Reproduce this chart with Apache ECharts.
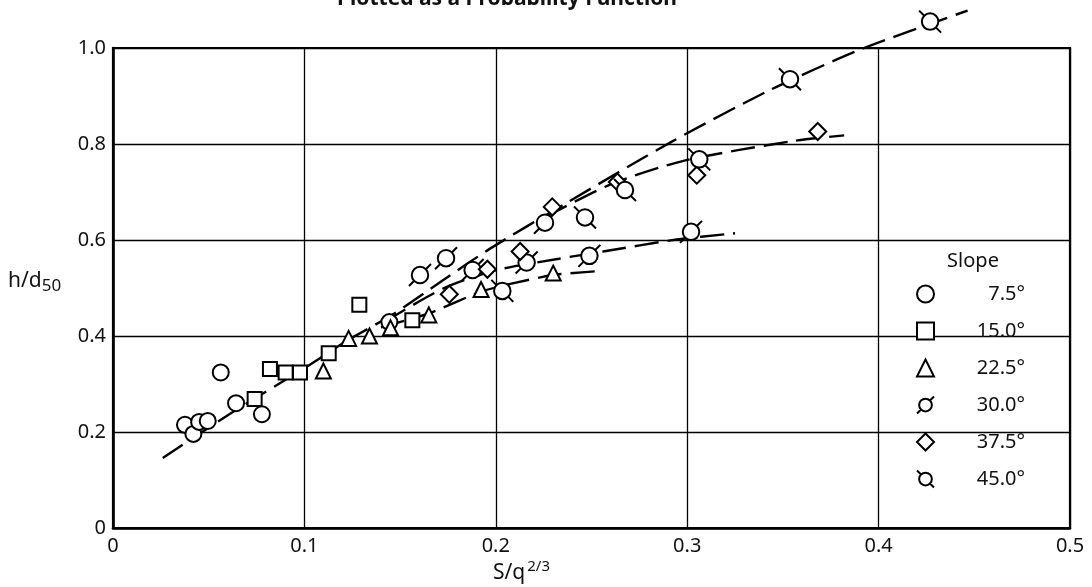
<!DOCTYPE html>
<html>
<head>
<meta charset="utf-8">
<script src="https://cdn.jsdelivr.net/npm/echarts@6/dist/echarts.min.js"></script>
<style>
html,body{margin:0;padding:0;background:#fff;}
#chart{width:1092px;height:587px;}
</style>
</head>
<body>
<div id="chart"></div>
<script>
// ---- data ----
const xTickLabels = ['0', '0.1', '0.2', '0.3', '0.4', '0.5'];
const yTickLabels = ['0', '0.2', '0.4', '0.6', '0.8', '1.0'];
const legendNames = ['7.5°', '15.0°', '22.5°', '30.0°', '37.5°', '45.0°'];

const slope75 = [[0.0376,0.215],[0.042,0.196],[0.045,0.221],[0.0495,0.223],[0.0563,0.324],[0.0643,0.26],[0.0778,0.237],[0.1444,0.429]];
const slope15 = [[0.074,0.269],[0.082,0.331],[0.0902,0.324],[0.0977,0.324],[0.1127,0.364],[0.1287,0.465],[0.1564,0.433]];
const slope225 = [[0.1099,0.327],[0.1231,0.395],[0.134,0.40],[0.145,0.417],[0.165,0.444],[0.1923,0.497],[0.230,0.531]];
const slope30 = [[0.1604,0.527],[0.174,0.562],[0.1879,0.5375],[0.2161,0.553],[0.2257,0.636],[0.2489,0.567],[0.302,0.617]];
const slope375 = [[0.1757,0.487],[0.1956,0.539],[0.2127,0.576],[0.2295,0.669],[0.2635,0.721],[0.305,0.735],[0.3682,0.826]];
const slope45 = [[0.2034,0.494],[0.2466,0.647],[0.2675,0.704],[0.3063,0.768],[0.3537,0.935],[0.4269,1.055]];

const curveBase = [[0.026,0.146],[0.062,0.24],[0.1,0.333],[0.122,0.39]];
const curveUpper = [[0.122,0.39],[0.147,0.447],[0.172,0.515],[0.197,0.582],[0.236,0.675],[0.292,0.805],[0.343,0.912],[0.39,0.996],[0.4465,1.078]];
const curveMiddle = [[0.226,0.648],[0.26,0.716],[0.298,0.765],[0.355,0.806],[0.382,0.818]];
const curveLow = [[0.142,0.43],[0.173,0.5],[0.2,0.537],[0.233,0.561],[0.256,0.576],[0.2945,0.601],[0.325,0.614]];
const curveLowest = [[0.14,0.418],[0.165,0.447],[0.192,0.492],[0.207,0.508],[0.23,0.527],[0.2527,0.535]];

// ---- styling ----
const FONT = 'Noto Sans';
const sym30 = 'path://M4,10A6,6,0,1,0,16,10A6,6,0,1,0,4,10ZM14.2,5.8L18,2M5.8,14.2L2,18';
const sym45 = 'path://M4,10A6,6,0,1,0,16,10A6,6,0,1,0,4,10ZM5.8,5.8L2,2M14.2,14.2L18,18';
const hollow = {color: '#ffffff', borderColor: '#000000', borderWidth: 2, opacity: 1};

function scatter(name, data, symbol, size) {
  return {
    name: name, type: 'scatter', data: data, symbol: symbol, symbolSize: size,
    itemStyle: hollow, clip: false, z: 5, emphasis: {disabled: true}
  };
}
function curve(data) {
  return {
    type: 'line', data: data, symbol: 'none', smooth: 0.25, clip: false, z: 3,
    lineStyle: {color: '#000', width: 2.4, type: [24, 9]}, silent: true
  };
}

const chart = echarts.init(document.getElementById('chart'), null, {renderer: 'canvas'});
chart.setOption({
  animation: false,
  backgroundColor: '#ffffff',
  grid: {left: 113, right: 22, top: 48, bottom: 59, show: true, borderColor: '#000', borderWidth: 2.2, backgroundColor: 'transparent'},
  xAxis: {
    type: 'value', min: 0, max: 0.5, interval: 0.1,
    axisLine: {show: true, lineStyle: {color: '#000', width: 2.6}},
    axisTick: {show: false},
    splitLine: {show: true, lineStyle: {color: '#000', width: 1.3}},
    axisLabel: {
      margin: 8, color: '#111', fontFamily: FONT, fontSize: 20,
      formatter: function (v) { return xTickLabels[Math.round(v / 0.1)]; }
    }
  },
  yAxis: {
    type: 'value', min: 0, max: 1.0, interval: 0.2,
    axisLine: {show: true, lineStyle: {color: '#000', width: 2.6}},
    axisTick: {show: false},
    splitLine: {show: true, lineStyle: {color: '#000', width: 1.3}},
    axisLabel: {
      margin: 7, color: '#111', fontFamily: FONT, fontSize: 20,
      formatter: function (v) { return yTickLabels[Math.round(v / 0.2)]; }
    }
  },
  legend: {
    show: true, orient: 'vertical', left: 911, top: 279,
    itemWidth: 17, itemHeight: 17, itemGap: 17,
    data: legendNames,
    formatter: function (n) { return '{t|' + n + '}'; },
    textStyle: {
      color: '#111', fontFamily: FONT, fontSize: 20,
      rich: {t: {width: 86, align: 'right', fontFamily: FONT, fontSize: 20, color: '#111', lineHeight: 17}}
    },
    itemStyle: {opacity: 1},
    selectedMode: false
  },
  graphic: [
    {type: 'text', silent: true,
      style: {x: 507, y: 10, text: 'Plotted as a Probability Function', textAlign: 'center', textVerticalAlign: 'bottom',
        font: 'bold 21px "' + FONT + '"', fill: '#111'}},
    {type: 'text', silent: true,
      style: {x: 973, y: 261, text: 'Slope', textAlign: 'center', textVerticalAlign: 'middle',
        font: '20px "' + FONT + '"', fill: '#111'}},
    {type: 'text', silent: true,
      style: {x: 8, y: 281, text: '{m|h/d}{s|50}', textVerticalAlign: 'middle',
        rich: {m: {fontFamily: FONT, fontSize: 21, fill: '#111', color: '#111'},
               s: {fontFamily: FONT, fontSize: 17, fill: '#111', color: '#111', padding: [10, 0, 0, 0]}}}},
    {type: 'text', silent: true,
      style: {x: 493, y: 573, text: '{m|S/q}{s|2/3}', textVerticalAlign: 'middle',
        rich: {m: {fontFamily: FONT, fontSize: 21, fill: '#111', color: '#111'},
               s: {fontFamily: FONT, fontSize: 15, fill: '#111', color: '#111', padding: [0, 0, 12, 2]}}}}
  ],
  series: [
    curve(curveBase), curve(curveUpper), curve(curveMiddle), curve(curveLow), curve(curveLowest),
    scatter('7.5°', slope75, 'circle', 16),
    scatter('15.0°', slope15, 'rect', 14),
    scatter('22.5°', slope225, 'triangle', 15),
    scatter('30.0°', slope30, sym30, 22),
    scatter('37.5°', slope375, 'diamond', 17),
    scatter('45.0°', slope45, sym45, 22)
  ]
});
</script>
</body>
</html>
